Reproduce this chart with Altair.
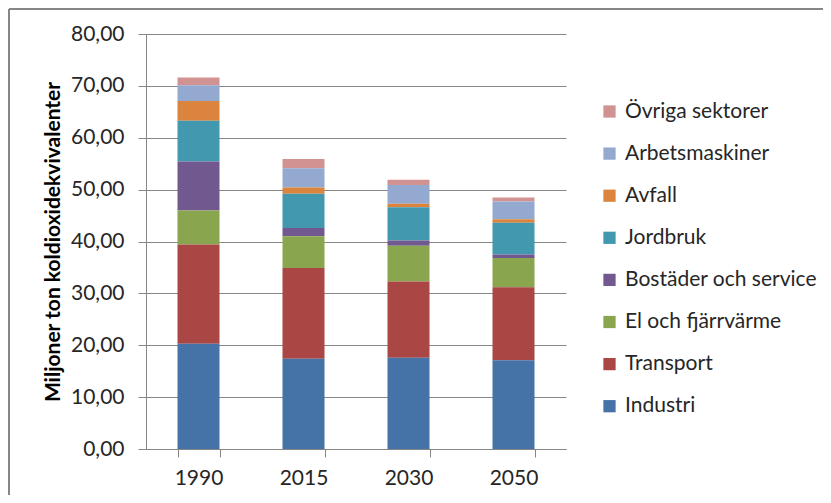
import altair as alt
import pandas as pd

years = ["1990", "2015", "2030", "2050"]

sectors = [
    "Övriga sektorer",
    "Arbetsmaskiner",
    "Avfall",
    "Jordbruk",
    "Bostäder och service",
    "El och fjärrvärme",
    "Transport",
    "Industri",
]
colors = ["#D19392", "#93A9CF", "#DB843D", "#4198AF", "#71588F", "#89A54E", "#AA4643", "#4572A7"]

industri = [20.3, 17.4, 17.6, 17.1]
transport = [19.1, 17.5, 14.7, 14.1]
el_fjarrvarme = [6.6, 6.1, 6.9, 5.6]
bostader = [9.4, 1.6, 1.0, 0.7]
jordbruk = [7.9, 6.6, 6.4, 6.1]
avfall = [3.8, 1.2, 0.7, 0.7]
arbetsmaskiner = [3.0, 3.7, 3.6, 3.4]
ovriga = [1.5, 1.8, 1.0, 0.8]

y_ticks = [0, 10, 20, 30, 40, 50, 60, 70, 80]

series = {
    "Övriga sektorer": ovriga,
    "Arbetsmaskiner": arbetsmaskiner,
    "Avfall": avfall,
    "Jordbruk": jordbruk,
    "Bostäder och service": bostader,
    "El och fjärrvärme": el_fjarrvarme,
    "Transport": transport,
    "Industri": industri,
}

rows = []
for s_i, s in enumerate(sectors):
    for y_i, yr in enumerate(years):
        rows.append({"year": yr, "sector": s, "value": series[s][y_i], "order": len(sectors) - s_i})
df = pd.DataFrame(rows)

FONT = "Lato"
GRAY = "#868686"
TXT = "#262626"

bars = alt.Chart(df).mark_bar().encode(
    x=alt.X(
        "year:N",
        sort=years,
        title=None,
        scale=alt.Scale(paddingInner=0.6, paddingOuter=0.3),
        axis=alt.Axis(
            labelAngle=0,
            tickBand="extent",
            tickSize=8,
            tickColor=GRAY,
            tickWidth=1,
            domainColor=GRAY,
            domainWidth=1,
            labelFontSize=21,
            labelFont=FONT,
            labelColor=TXT,
            labelPadding=10,
            grid=False,
        ),
    ),
    y=alt.Y(
        "value:Q",
        stack="zero",
        scale=alt.Scale(domain=[0, 80], nice=False),
        title="Miljoner ton koldioxidekvivalenter",
        axis=alt.Axis(
            values=y_ticks,
            labelExpr="replace(format(datum.value, '.2f'), '.', ',')",
            tickSize=8,
            tickColor=GRAY,
            domainColor=GRAY,
            gridColor=GRAY,
            gridWidth=1,
            labelFontSize=21,
            labelFont=FONT,
            labelColor=TXT,
            labelPadding=14,
            titleFont=FONT,
            titleFontSize=21,
            titleFontWeight="bold",
            titleColor="#000000",
            titlePadding=7,
        ),
    ),
    color=alt.Color(
        "sector:N",
        scale=alt.Scale(domain=sectors, range=colors),
        legend=alt.Legend(
            title=None,
            orient="none",
            legendX=453,
            legendY=67,
            symbolType="square",
            symbolSize=150,
            symbolStrokeWidth=0,
            labelFont=FONT,
            labelFontSize=21,
            labelColor=TXT,
            labelOffset=5,
            labelLimit=320,
            rowPadding=20.1,
            padding=0,
        ),
    ),
    order=alt.Order("order:Q", sort="ascending"),
)

one = alt.Data(values=[{"k": 1}])
border_left = alt.Chart(one).mark_rule(color=GRAY, strokeWidth=2).encode(
    x=alt.value(-137), y=alt.value(-25), y2=alt.value(470)
)
border_top = alt.Chart(one).mark_rule(color=GRAY, strokeWidth=2).encode(
    x=alt.value(-137), x2=alt.value(690), y=alt.value(-25)
)

chart = alt.layer(border_left, border_top, bars).properties(
    width=420,
    height=415,
    autosize=alt.AutoSizeParams(type="none"),
    padding={"left": 138, "top": 26, "right": 257, "bottom": 46},
).configure_view(stroke=None)

chart.save("out.html", embed_options={"renderer": "svg", "actions": False})
